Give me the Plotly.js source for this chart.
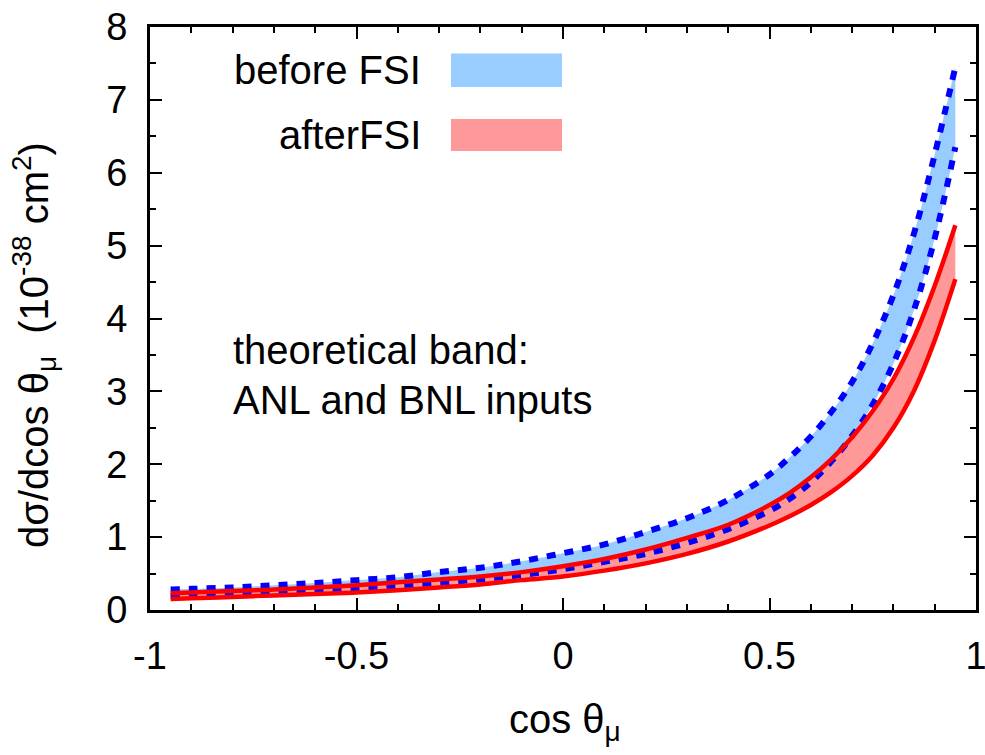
<!DOCTYPE html>
<html>
<head>
<meta charset="utf-8">
<script src="https://cdn.plot.ly/plotly-3.0.1.min.js"></script>
<style>body{margin:0;padding:0;background:#fff;}#chart{width:985px;height:755px;}</style>
</head>
<body>
<div id="chart"></div>
<script>
// cos(theta_mu) sample points
const cosTheta = [-0.95,-0.9,-0.8,-0.7,-0.6,-0.5,-0.4,-0.3,-0.2,-0.1,0,0.1,0.2,0.3,0.4,0.5,0.55,0.6,0.65,0.7,0.75,0.8,0.85,0.9,0.95];
// before FSI band (blue, dashed edges)
const beforeUpper = [0.28,0.29,0.31,0.34,0.37,0.41,0.45,0.52,0.58,0.67,0.78,0.90,1.07,1.26,1.51,1.86,2.10,2.38,2.72,3.13,3.66,4.32,5.17,6.25,7.45];
const beforeLower = [0.19,0.20,0.21,0.23,0.25,0.28,0.32,0.37,0.42,0.48,0.56,0.66,0.77,0.92,1.11,1.36,1.53,1.75,2.04,2.39,2.82,3.38,4.12,5.10,6.35];
// after FSI band (red, solid edges)
const afterUpper = [0.23,0.24,0.26,0.28,0.31,0.34,0.38,0.42,0.46,0.52,0.60,0.70,0.83,0.99,1.17,1.44,1.61,1.82,2.07,2.37,2.73,3.17,3.74,4.45,5.28];
const afterLower = [0.15,0.16,0.18,0.20,0.22,0.24,0.27,0.31,0.35,0.41,0.46,0.54,0.64,0.77,0.94,1.16,1.29,1.44,1.62,1.84,2.12,2.50,3.01,3.70,4.54];

const xTicks = [-1,-0.5,0,0.5,1];
const xTickText = ['-1','-0.5','0','0.5','1'];
const yTicks = [0,1,2,3,4,5,6,7,8];

const legendLabels = ['before FSI','afterFSI'];
const noteLines = ['theoretical band:','ANL and BNL inputs'];

const BLUE_FILL = 'rgb(153,204,255)';
const RED_FILL = 'rgb(255,153,153)';
const FONT = 'Liberation Sans, Arial, sans-serif';

const traces = [
  {x: cosTheta, y: beforeLower, mode:'lines', line:{width:0, shape:'spline'}, hoverinfo:'skip', showlegend:false},
  {x: cosTheta, y: beforeUpper, mode:'lines', line:{width:0, shape:'spline'}, fill:'tonexty', fillcolor:BLUE_FILL, showlegend:false},
  {x: cosTheta, y: afterLower, mode:'lines', line:{width:0, shape:'spline'}, hoverinfo:'skip', showlegend:false},
  {x: cosTheta, y: afterUpper, mode:'lines', line:{width:0, shape:'spline'}, fill:'tonexty', fillcolor:RED_FILL, showlegend:false},
  {x: cosTheta, y: beforeUpper, mode:'lines', line:{color:'#0000ff', width:6, dash:'9px,9px', shape:'spline'}, showlegend:false},
  {x: cosTheta, y: beforeLower, mode:'lines', line:{color:'#0000ff', width:6, dash:'9px,9px', shape:'spline'}, showlegend:false},
  {x: cosTheta, y: afterUpper, mode:'lines', line:{color:'#ff0000', width:4.5, shape:'spline'}, showlegend:false},
  {x: cosTheta, y: afterLower, mode:'lines', line:{color:'#ff0000', width:4.5, shape:'spline'}, showlegend:false}
];

const L = 150, R = 9, T = 27, B = 145, W = 985, H = 755;
const pw = W - L - R, ph = H - T - B;
const px = v => (v - L) / pw;
const py = v => (H - B - v) / ph;

const layout = {
  width: W, height: H,
  margin: {l:L, r:R, t:T, b:B, pad:0},
  paper_bgcolor:'#fff', plot_bgcolor:'#fff',
  showlegend:false,
  font:{family:FONT, color:'#000', size:38},
  xaxis:{
    range:[-1,1], tickvals:xTicks, ticktext:xTickText,
    ticks:'inside', ticklen:12, tickwidth:2, tickcolor:'#000',
    minor:{dtick:0.1, ticks:'inside', ticklen:6, tickwidth:2, tickcolor:'#000'},
    showline:true, linewidth:3, linecolor:'#000', mirror:'allticks',
    showgrid:false, zeroline:false, ticklabeloverflow:'allow',
    tickfont:{family:FONT, size:38, color:'#000'}, ticklabelstandoff:10
  },
  yaxis:{
    range:[0,8], tickvals:yTicks,
    ticks:'inside', ticklen:12, tickwidth:2, tickcolor:'#000',
    minor:{dtick:0.5, ticks:'inside', ticklen:6, tickwidth:2, tickcolor:'#000'},
    showline:true, linewidth:3, linecolor:'#000', mirror:'allticks',
    showgrid:false, zeroline:false, ticklabeloverflow:'allow',
    tickfont:{family:FONT, size:38, color:'#000'}, ticklabelstandoff:12
  },
  shapes:[
    {type:'rect', xref:'paper', yref:'paper', x0:px(451), x1:px(562), y0:py(87), y1:py(53.5), fillcolor:BLUE_FILL, line:{width:0}},
    {type:'rect', xref:'paper', yref:'paper', x0:px(451), x1:px(562), y0:py(151), y1:py(119), fillcolor:RED_FILL, line:{width:0}}
  ],
  annotations:[
    {xref:'paper', yref:'paper', x:px(423), y:py(70), xanchor:'right', yanchor:'middle', text:legendLabels[0], showarrow:false, font:{family:FONT, size:40, color:'#000'}},
    {xref:'paper', yref:'paper', x:px(423), y:py(135), xanchor:'right', yanchor:'middle', text:legendLabels[1], showarrow:false, font:{family:FONT, size:40, color:'#000'}},
    {xref:'paper', yref:'paper', x:px(231), y:py(350), xanchor:'left', yanchor:'middle', text:noteLines[0], showarrow:false, font:{family:FONT, size:40, color:'#000'}},
    {xref:'paper', yref:'paper', x:px(231), y:py(400), xanchor:'left', yanchor:'middle', text:noteLines[1], showarrow:false, font:{family:FONT, size:40, color:'#000'}},
    {xref:'paper', yref:'paper', x:px(565), y:py(722), xanchor:'center', yanchor:'middle', text:'cos θ<sub>μ</sub>', showarrow:false, font:{family:FONT, size:40, color:'#000'}},
    {xref:'paper', yref:'paper', x:px(34), y:py(345), xanchor:'center', yanchor:'middle', textangle:-90, text:'dσ/dcos θ<sub>μ</sub>  (10<sup>-38</sup> cm<sup>2</sup>)', showarrow:false, font:{family:FONT, size:40, color:'#000'}}
  ]
};

Plotly.newPlot('chart', traces, layout, {displayModeBar:false, staticPlot:true});
</script>
</body>
</html>
